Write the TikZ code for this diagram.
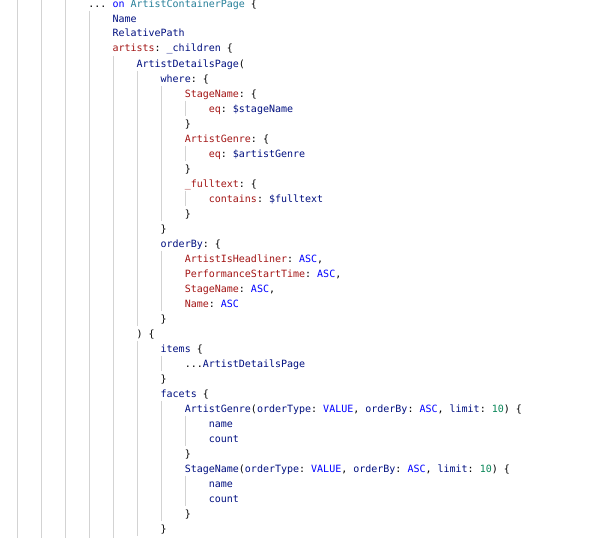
\documentclass[tikz,border=0pt]{standalone}
\usepackage{fontspec}
\setmonofont{DejaVu Sans Mono}
\usepackage{xcolor}
\definecolor{cnavy}{HTML}{001080}
\definecolor{cred}{HTML}{A31515}
\definecolor{cteal}{HTML}{267F99}
\definecolor{cblue}{HTML}{0000FF}
\definecolor{cgreen}{HTML}{098658}
\definecolor{cguide}{HTML}{D3D3D3}
\newcommand\cF[1]{\textcolor{cnavy}{#1}}
\newcommand\cK[1]{\textcolor{cred}{#1}}
\newcommand\cT[1]{\textcolor{cteal}{#1}}
\newcommand\cE[1]{\textcolor{cblue}{#1}}
\newcommand\cW[1]{\textcolor{cblue}{#1}}
\newcommand\cN[1]{\textcolor{cgreen}{#1}}
\frenchspacing
\begin{document}
\begin{tikzpicture}[x=1pt,y=-1pt,
  codeline/.style={anchor=base west, inner sep=0pt, outer sep=0pt, text=black,
    font=\ttfamily\fontsize{10}{15}\selectfont\frenchspacing},
  guide/.style={draw=cguide, line width=1pt}]
\fill[white] (0,0) rectangle (614,538);
\useasboundingbox (0,0) rectangle (614,538);
\newcommand\cl[3]{\node[codeline] (l#1) at ({16.2+24.08*#2},{7+15*#1}) {#3};}
% indent guides
\foreach \i in {0,1,2} {\draw[guide] ({17.3+24.08*\i},0) -- ({17.3+24.08*\i},538);}
\draw[guide] ({17.3+24.08*3},10.8) -- ({17.3+24.08*3},538);
\draw[guide] ({17.3+24.08*4},55.8) -- ({17.3+24.08*4},538);
\draw[guide] ({17.3+24.08*5},70.8) -- ({17.3+24.08*5},325.8);
\draw[guide] ({17.3+24.08*5},340.8) -- ({17.3+24.08*5},535.8);
\draw[guide] ({17.3+24.08*6},85.8) -- ({17.3+24.08*6},220.8);
\draw[guide] ({17.3+24.08*6},250.8) -- ({17.3+24.08*6},310.8);
\draw[guide] ({17.3+24.08*6},355.8) -- ({17.3+24.08*6},370.8);
\draw[guide] ({17.3+24.08*6},400.8) -- ({17.3+24.08*6},520.8);
\draw[guide] ({17.3+24.08*7},100.8) -- ({17.3+24.08*7},115.8);
\draw[guide] ({17.3+24.08*7},145.8) -- ({17.3+24.08*7},160.8);
\draw[guide] ({17.3+24.08*7},190.8) -- ({17.3+24.08*7},205.8);
\draw[guide] ({17.3+24.08*7},415.8) -- ({17.3+24.08*7},445.8);
\draw[guide] ({17.3+24.08*7},475.8) -- ({17.3+24.08*7},505.8);
% code lines
\cl{0}{3}{... \cW{on} \cT{ArtistContainerPage} \{}
\cl{1}{4}{\cF{Name}}
\cl{2}{4}{\cF{RelativePath}}
\cl{3}{4}{\cK{artists}: \cF{\_children} \{}
\cl{4}{5}{\cF{ArtistDetailsPage}(}
\cl{5}{6}{\cF{where}: \{}
\cl{6}{7}{\cK{StageName}: \{}
\cl{7}{8}{\cK{eq}: \cF{\$stageName}}
\cl{8}{7}{\}}
\cl{9}{7}{\cK{ArtistGenre}: \{}
\cl{10}{8}{\cK{eq}: \cF{\$artistGenre}}
\cl{11}{7}{\}}
\cl{12}{7}{\cK{\_fulltext}: \{}
\cl{13}{8}{\cK{contains}: \cF{\$fulltext}}
\cl{14}{7}{\}}
\cl{15}{6}{\}}
\cl{16}{6}{\cF{orderBy}: \{}
\cl{17}{7}{\cK{ArtistIsHeadliner}: \cE{ASC},}
\cl{18}{7}{\cK{PerformanceStartTime}: \cE{ASC},}
\cl{19}{7}{\cK{StageName}: \cE{ASC},}
\cl{20}{7}{\cK{Name}: \cE{ASC}}
\cl{21}{6}{\}}
\cl{22}{5}{) \{}
\cl{23}{6}{\cF{items} \{}
\cl{24}{7}{...\cF{ArtistDetailsPage}}
\cl{25}{6}{\}}
\cl{26}{6}{\cF{facets} \{}
\cl{27}{7}{\cF{ArtistGenre}(\cF{orderType}: \cE{VALUE}, \cF{orderBy}: \cE{ASC}, \cF{limit}: \cN{10}) \{}
\cl{28}{8}{\cF{name}}
\cl{29}{8}{\cF{count}}
\cl{30}{7}{\}}
\cl{31}{7}{\cF{StageName}(\cF{orderType}: \cE{VALUE}, \cF{orderBy}: \cE{ASC}, \cF{limit}: \cN{10}) \{}
\cl{32}{8}{\cF{name}}
\cl{33}{8}{\cF{count}}
\cl{34}{7}{\}}
\cl{35}{6}{\}}
\end{tikzpicture}
\end{document}
